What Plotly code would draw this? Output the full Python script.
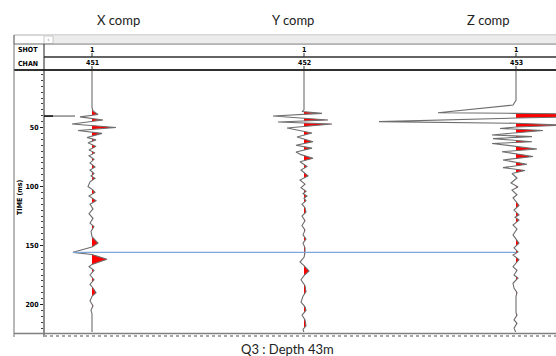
import numpy as np
import plotly.graph_objects as go

# ---------------- data ----------------
channels = [451, 452, 453]
shots = [1, 1, 1]
comp_labels = ["X comp", "Y comp", "Z comp"]
caption = "Q3 : Depth 43m"
time_ticks = [50, 100, 150, 200]
pick_time = 155.8          # blue pick line (ms)
first_break_time = 40.3    # marker on first trace (ms)

# trace X (channel 451): time (ms) / amplitude (display units)
x_time = [0, 33, 36, 39, 41, 43.6, 47, 50, 52.5, 55, 58.5, 60.5, 63, 66, 69, 71.5, 74, 77, 80,
          83.5, 86, 89, 91, 93, 96, 100, 103, 105, 108, 112, 115, 119, 123, 127, 131, 134, 138,
          142.5, 148, 151.3, 155.8, 157.6, 161.7, 166, 168, 171, 175, 179, 183, 186, 190, 193,
          197, 201, 205, 208, 224]
x_amp = [0, 0, 1, 6, -12, 11, -20, 24, -14, 10, -5, 4, -4, 4, -3, 3, -3, 2, -2,
         3, -2, 2, -1, 3, -2, -4, 1, 3, -3, 4, -2, 1, -3, 1, -2, 2, -1,
         0, 6, 0, -19, 0, 15, 0, -3, 2, -2, 2, -2, 1, 4, 0,
         -2, 1, -1, 0, 0]

# trace Y (channel 452)
y_time = [0, 35, 36.5, 38, 40.3, 43.6, 45.3, 47, 50.4, 54.7, 58, 62, 65, 67.5, 70.7, 73, 76, 79,
          83, 86, 91, 94.5, 98, 101, 104, 106, 108, 110, 112, 115, 118, 121.6, 125, 129, 133,
          137, 141, 144.5, 148, 152, 156, 160, 164, 167, 171.6, 175.5, 179, 184, 189, 193, 198,
          202, 205, 209, 213, 218, 221, 224]
y_amp = [0, 0, -2, 18, -31, 24, -26, 28, -17, 8, -7, 9, -8, 8, -8, -3, 9, -4,
         3, -3, 4, -4, 1, -3, 2, -1, 3, 0, 2, -2, 1, 2, -2, 1, -2,
         1, -1, 2, -1, 1, 1, 0, -4, 0, 5, 0, -3, 1, 2, -1, -3,
         1, 2, -2, 1, 2, -1, 0]

# trace Z (channel 453)
z_time = [0, 27, 31, 37.5, 38.0, 39.0, 41.0, 42.0, 45.0, 46.4, 48.0, 49.6, 50.8, 52.5, 56.3, 57.7,
          59.4, 62.1, 63.5, 68.2, 70.5, 74.6, 77.5, 81.2, 84, 86.4, 89, 92.8, 97, 100.4, 103, 107,
          109.7, 113, 116, 120, 124, 126, 128.5, 132.6, 136, 141, 148, 152, 155.5, 158, 162, 168,
          171, 175, 177.5, 182, 186, 190, 193, 207, 209, 213, 216, 220, 224]
z_amp = [0, 0, -3, -78, 0, 100, 60, 0, -137, 0, 50, 0, -16, 27, -24, 16,
         -23, 16, -24, 21, -14, 17, -13, 11, -13, 9, -4, 1, -5, 2, -4, 1,
         -3, 0, 3, -2, 3, -1, 3, -3, 1, -3, 3, -2, 2, -3, 3, -3,
         1, -2, 2, -3, -2, 1, 0, 0, 1, -2, 1, -2, 0]

traces_data = [(x_time, x_amp), (y_time, y_amp), (z_time, z_amp)]

# ---------------- layout helpers ----------------
W, H = 556, 356
ML, MR, MT, MB = 44, 0, 70, 24
PW, PH = W - ML - MR, H - MT - MB
PX_PER_CH = 212.0
gain = 1.0 / PX_PER_CH
t_top, t_bot = (70 - 68.5) / 1.18, (332 - 68.5) / 1.18
x_lo = channels[0] - (92 - 44) / PX_PER_CH
x_hi = channels[0] + (556 - 92) / PX_PER_CH


def px(x):
    return (x - ML) / PW


def py(y):
    return (H - MB - y) / PH


def clip_positive(t, a):
    tt, aa = [], []
    for i in range(len(t)):
        if i > 0 and a[i - 1] * a[i] < 0:
            tc = t[i - 1] + (t[i] - t[i - 1]) * (-a[i - 1]) / (a[i] - a[i - 1])
            tt.append(tc)
            aa.append(0.0)
        tt.append(t[i])
        aa.append(max(a[i], 0.0))
    return tt, aa


fig = go.Figure()
for ch, (tm, am) in zip(channels, traces_data):
    # baseline (reference for fill)
    fig.add_trace(go.Scatter(x=[ch, ch], y=[tm[0], tm[-1]], mode="lines",
                             line=dict(width=0, color="rgba(0,0,0,0)"),
                             hoverinfo="skip", showlegend=False))
    tp, ap = clip_positive(tm, am)
    fig.add_trace(go.Scatter(x=[ch + v * gain for v in ap], y=tp, mode="lines",
                             line=dict(width=0, color="rgba(0,0,0,0)"),
                             fill="tonextx", fillcolor="#ff0000",
                             hoverinfo="skip", showlegend=False))
for ch, (tm, am) in zip(channels, traces_data):
    fig.add_trace(go.Scatter(x=[ch + v * gain for v in am], y=tm, mode="lines",
                             line=dict(width=1.1, color="#6e6e6e"),
                             hoverinfo="skip", showlegend=False))

small_font = dict(family="Liberation Sans Narrow, Arial Narrow, DejaVu Sans Condensed, sans-serif",
                  size=7, color="black", weight="bold")

shapes = []
# header: scroll row
shapes.append(dict(type="rect", xref="paper", yref="paper", x0=px(14), x1=px(556), y0=py(44), y1=py(35),
                   line=dict(color="#b0b0b0", width=1), fillcolor="white", layer="below"))
shapes.append(dict(type="rect", xref="paper", yref="paper", x0=px(44), x1=px(556), y0=py(44), y1=py(35.5),
                   line=dict(width=0), fillcolor="#ececec", layer="below"))
shapes.append(dict(type="rect", xref="paper", yref="paper", x0=px(44), x1=px(53), y0=py(43.5), y1=py(36),
                   line=dict(color="#c8c8c8", width=1), fillcolor="white", layer="below"))
# header lines
shapes.append(dict(type="line", xref="paper", yref="paper", x0=px(14), x1=px(556), y0=py(44), y1=py(44),
                   line=dict(color="#909090", width=1)))
shapes.append(dict(type="line", xref="paper", yref="paper", x0=px(44), x1=px(556), y0=py(57), y1=py(57),
                   line=dict(color="#303030", width=1.6)))
shapes.append(dict(type="line", xref="paper", yref="paper", x0=px(14), x1=px(556), y0=py(70), y1=py(70),
                   line=dict(color="#303030", width=1.8)))
# left frame lines
shapes.append(dict(type="line", xref="paper", yref="paper", x0=px(14), x1=px(14), y0=py(35), y1=py(337),
                   line=dict(color="#707070", width=1)))
shapes.append(dict(type="line", xref="paper", yref="paper", x0=px(44), x1=px(44), y0=py(44), y1=py(337),
                   line=dict(color="#202020", width=1)))
# bottom ruler
shapes.append(dict(type="line", xref="paper", yref="paper", x0=px(14), x1=px(556), y0=py(333.5), y1=py(333.5),
                   line=dict(color="#808080", width=1.5)))
shapes.append(dict(type="line", xref="paper", yref="paper", x0=px(44), x1=px(556), y0=py(336), y1=py(336),
                   line=dict(color="#a8a8a8", width=2, dash="dot")))
# header ticks at trace positions
for ch in channels:
    shapes.append(dict(type="line", xref="x", yref="paper", x0=ch, x1=ch, y0=py(53), y1=py(57),
                       line=dict(color="#303030", width=1)))
    shapes.append(dict(type="line", xref="x", yref="paper", x0=ch, x1=ch, y0=py(66), y1=py(70),
                       line=dict(color="#303030", width=1)))
# first-break marker on first trace
shapes.append(dict(type="line", xref="paper", yref="y", x0=px(44), x1=px(53),
                   y0=first_break_time, y1=first_break_time, line=dict(color="#202020", width=1.8)))
shapes.append(dict(type="line", xref="paper", yref="y", x0=px(53), x1=px(75),
                   y0=first_break_time, y1=first_break_time, line=dict(color="#808080", width=1.4)))
# pick line
pick_x0 = channels[0] + float(np.interp(pick_time, x_time, x_amp)) * gain
shapes.append(dict(type="line", xref="x", yref="y", x0=pick_x0, x1=channels[2],
                   y0=pick_time, y1=pick_time, line=dict(color="#7fa6d8", width=1.2)))

annotations = []
title_x = [118, 293, 488]
for lab, tx in zip(comp_labels, title_x):
    annotations.append(dict(text=lab, xref="paper", yref="paper", x=px(tx), y=py(20),
                            showarrow=False, xanchor="center", yanchor="middle",
                            font=dict(family="Lato, Open Sans, sans-serif", size=13, color="#222")))
annotations.append(dict(text="SHOT", xref="paper", yref="paper", x=px(16), y=py(50.5), showarrow=False,
                        xanchor="left", yanchor="middle", font=small_font))
annotations.append(dict(text="CHAN", xref="paper", yref="paper", x=px(16), y=py(63.5), showarrow=False,
                        xanchor="left", yanchor="middle", font=small_font))
for ch, sh in zip(channels, shots):
    annotations.append(dict(text=str(sh), xref="x", yref="paper", x=ch, y=py(49.5), showarrow=False,
                            xanchor="center", yanchor="middle", font=small_font))
    annotations.append(dict(text=str(ch), xref="x", yref="paper", x=ch, y=py(62.5), showarrow=False,
                            xanchor="center", yanchor="middle", font=small_font))
annotations.append(dict(text="‹", xref="paper", yref="paper", x=px(48.5), y=py(39.5), showarrow=False,
                        xanchor="center", yanchor="middle",
                        font=dict(family="DejaVu Sans", size=7, color="#909090")))
annotations.append(dict(text="TIME (ms)", xref="paper", yref="paper", x=px(20), y=py(197),
                        showarrow=False, textangle=-90, xanchor="center", yanchor="middle", font=small_font))
annotations.append(dict(text=caption, xref="paper", yref="paper", x=px(287), y=py(349), showarrow=False,
                        xanchor="center", yanchor="middle",
                        font=dict(family="Lato, Open Sans, sans-serif", size=13, color="#222")))

fig.update_layout(
    width=W, height=H, autosize=False,
    margin=dict(l=ML, r=MR, t=MT, b=MB, pad=0),
    paper_bgcolor="white", plot_bgcolor="white",
    showlegend=False,
    shapes=shapes, annotations=annotations,
    xaxis=dict(range=[x_lo, x_hi], showgrid=False, zeroline=False, showticklabels=False,
               ticks="", showline=False, fixedrange=True),
    yaxis=dict(range=[t_bot, t_top], showgrid=False, zeroline=False, showline=False,
               tickvals=time_ticks, ticktext=[str(v) for v in time_ticks],
               ticks="outside", ticklen=3, tickwidth=1, tickcolor="#202020",
               tickfont=small_font,
               minor=dict(dtick=5, ticks="outside", ticklen=2, tickcolor="#404040", tick0=0),
               fixedrange=True),
)

fig.write_html("out.html", config={"displayModeBar": False},
               post_script="document.body.style.margin='0';document.body.style.overflow='hidden';")
